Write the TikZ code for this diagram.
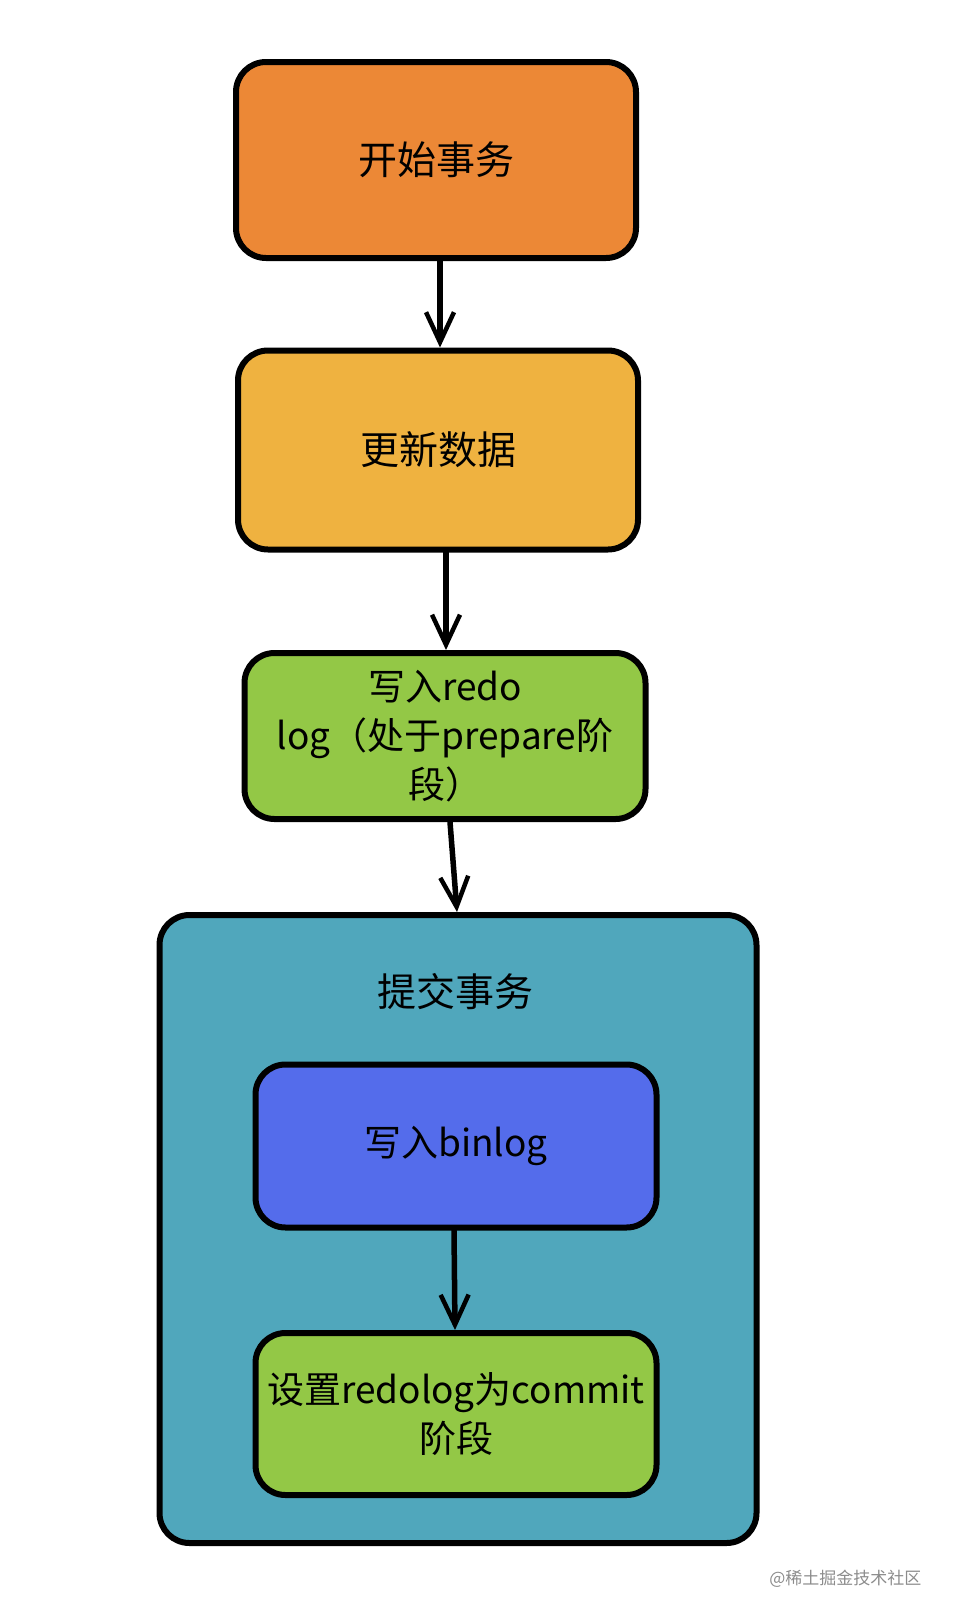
\documentclass[tikz,border=0pt]{standalone}
\usepackage{fontspec}
\newfontfamily\cjk{Noto Sans CJK SC}
\usetikzlibrary{arrows.meta}
\definecolor{corange}{RGB}{236,136,54}
\definecolor{camber}{RGB}{239,178,64}
\definecolor{cgreen}{RGB}{147,200,70}
\definecolor{cteal}{RGB}{80,167,188}
\definecolor{cblue}{RGB}{84,108,235}
\tikzset{
  box/.style={draw=black, line width=6pt, rounded corners=30pt, inner sep=0pt,
    align=center, font=\cjk\fontsize{37}{49}\selectfont, text=black},
  big text/.style={font=\cjk\fontsize{39}{49}\selectfont},
  arr/.style={draw=black, line width=5.5pt, line cap=round,
    -{Straight Barb[length=30pt,width=28pt,line width=4.5pt]}},
}
\begin{document}
\begin{tikzpicture}[x=1pt,y=-1pt]
\useasboundingbox (0,0) rectangle (956,1620);
\node[box, big text, fill=corange, minimum width=400pt, minimum height=196pt] (b1) at (436,160) {开始事务};
\node[box, big text, fill=camber, minimum width=400pt, minimum height=199pt] (b2) at (438,450) {更新数据};
\node[box, fill=cgreen, minimum width=401pt, minimum height=166pt] (b3) at (445,736) {写入redo\\log（处于prepare阶\\段）};
\node[box, fill=cteal, minimum width=597pt, minimum height=628pt] (big) at (458,1229) {};
\node[big text, text=black] (title) at (455,992) {提交事务};
\node[box, fill=cblue, minimum width=401pt, minimum height=163pt] (bl) at (456,1146) {写入binlog};
\node[box, fill=cgreen, minimum width=401pt, minimum height=162pt] (gr) at (456,1414) {设置redolog为commit\\阶段};
\draw[arr] ([xshift=4pt]b1.south) -- ([xshift=2pt]b2.north);
\draw[arr] ([xshift=8pt]b2.south) -- ([xshift=1pt]b3.north);
\draw[arr] ([xshift=5pt]b3.south) -- ([xshift=-1pt]big.north);
\draw[arr] ([xshift=-2pt]bl.south) -- ([xshift=-1pt]gr.north);
\node[anchor=east, font=\cjk\fontsize{17}{20}\selectfont, text=black!45] (wm) at (925,1579) {@稀土掘金技术社区};
\end{tikzpicture}
\end{document}
